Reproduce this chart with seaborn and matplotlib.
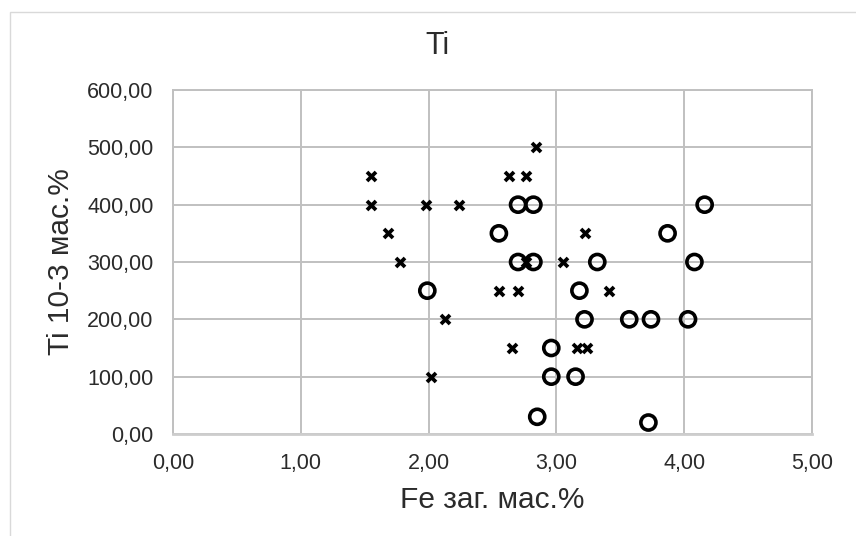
import matplotlib
matplotlib.use("Agg")
import matplotlib.pyplot as plt
from matplotlib.patches import Rectangle
from matplotlib.ticker import FuncFormatter
import pandas as pd
import seaborn as sns

# Fe (total, wt.%) vs Ti (10^-3 wt.%) for two sample groups
fe_circles = [1.99, 2.55, 2.70, 2.82, 2.70, 2.82, 4.16, 3.87, 3.32, 4.08,
              3.18, 3.22, 3.57, 3.74, 4.03, 2.96, 2.96, 3.15, 2.85, 3.72]
ti_circles = [250, 350, 400, 400, 300, 300, 400, 350, 300, 300,
              250, 200, 200, 200, 200, 150, 100, 100, 30, 20]

fe_crosses = [1.55, 1.55, 1.98, 2.24, 1.68, 1.78, 2.13, 2.02, 2.84, 2.63,
              2.76, 2.76, 3.05, 3.22, 2.55, 2.70, 3.41, 2.65, 3.16, 3.24]
ti_crosses = [450, 400, 400, 400, 350, 300, 200, 100, 500, 450,
              450, 300, 300, 350, 250, 250, 250, 150, 150, 150]

x_ticks = [0, 1, 2, 3, 4, 5]
y_ticks = [0, 100, 200, 300, 400, 500, 600]

sns.set_theme(style="white")
plt.rcParams["font.family"] = ["Liberation Sans", "DejaVu Sans"]

TEXT = "#2b2b2b"
GRID = "#c0c0c0"

fig = plt.figure(figsize=(8.56, 5.36), dpi=100)
fig.patch.set_facecolor("white")
fig.patches.append(Rectangle((10 / 856, -0.05), 1.1, 1 - 12 / 536 + 0.05,
                             transform=fig.transFigure, fill=False,
                             edgecolor="#d9d9d9", linewidth=1.0))

ax = fig.add_axes([173 / 856, 1 - 434 / 536, 639 / 856, 344 / 536])

df_c = pd.DataFrame({"Fe": fe_circles, "Ti": ti_circles})
df_x = pd.DataFrame({"Fe": fe_crosses, "Ti": ti_crosses})

sns.scatterplot(data=df_x, x="Fe", y="Ti", ax=ax, marker="x", s=42,
                color="black", linewidth=2.7, zorder=3)
sns.scatterplot(data=df_c, x="Fe", y="Ti", ax=ax, marker="o", s=118,
                facecolor="none", edgecolor="black", linewidth=2.6, zorder=4)

ax.set_xlim(0, 5)
ax.set_ylim(0, 600)
ax.set_xticks(x_ticks)
ax.set_yticks(y_ticks)
comma = FuncFormatter(lambda v, _: f"{v:.2f}".replace(".", ","))
ax.xaxis.set_major_formatter(comma)
ax.yaxis.set_major_formatter(comma)
ax.tick_params(axis="both", labelsize=15.5, labelcolor=TEXT, length=0)
ax.tick_params(axis="x", pad=14)
ax.tick_params(axis="y", pad=14)

ax.grid(True, color=GRID, linewidth=1.4)
ax.set_axisbelow(True)
for side, sp in ax.spines.items():
    sp.set_color(GRID)
    sp.set_linewidth(1.4)
ax.spines["bottom"].set_color("#cdcdcd")
ax.spines["bottom"].set_linewidth(2.0)

ax.set_xlabel("Fe заг. мас.%", fontsize=21.5, color=TEXT, va="center")
ax.set_ylabel("Ti 10-3 мас.%", fontsize=21.5, color=TEXT, va="center")
ax.xaxis.set_label_coords(0.5, (434 - 500) / 344)
ax.yaxis.set_label_coords((61 - 173) / 639, 0.5)
fig.text(437 / 856, 1 - 46 / 536, "Ti", ha="center", va="center",
         fontsize=22, color=TEXT)

fig.savefig("out.png", dpi=100)
